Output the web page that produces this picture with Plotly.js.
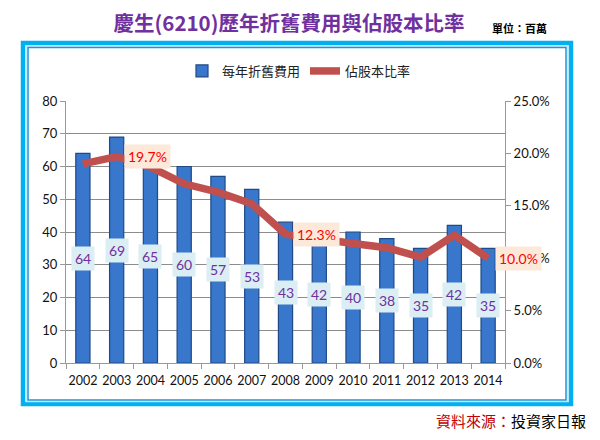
<!DOCTYPE html>
<html>
<head>
<meta charset="utf-8">
<script src="https://cdn.plot.ly/plotly-3.0.1.min.js"></script>
<style>html,body{margin:0;padding:0;background:#fff;}#chart{width:600px;height:440px;}</style>
</head>
<body>
<div id="chart"></div>
<script>
const years = ['2002','2003','2004','2005','2006','2007','2008','2009','2010','2011','2012','2013','2014'];
const depreciation = [64,69,65,60,57,53,43,42,40,38,35,42,35];
const ratioPct = [19.0,19.7,18.7,17.1,16.3,15.2,12.3,11.8,11.4,11.0,10.1,12.2,10.0];
const labeledRatioYears = ['2003','2008','2014'];

const FONT = 'Lato, "Noto Sans CJK TC", sans-serif';
const CJK = '"Noto Sans CJK TC", "Noto Sans", sans-serif';

// plot area pixel geometry (for decoration shapes in paper coords)
const PL = 66, PR = 505, PT = 101, PB = 363;
const px = x => (x - PL) / (PR - PL);
const py = y => (PB - y) / (PB - PT);

const barTrace = {
  type: 'bar', x: years, y: depreciation, name: '每年折舊費用',
  width: 0.42,
  marker: {color: '#3877cc', line: {color: '#1f4a86', width: 1.2}},
  hoverinfo: 'x+y'
};
const lineTrace = {
  type: 'scatter', mode: 'lines', x: years, y: ratioPct, yaxis: 'y2', name: '佔股本比率',
  line: {color: '#c0504d', width: 7.5}
};

const annotations = [];
years.forEach((yr, i) => {
  annotations.push({
    x: i, y: depreciation[i] / 2, xref: 'x', yref: 'y',
    text: String(depreciation[i]), showarrow: false,
    font: {family: FONT, size: 14, color: '#7030a0'},
    bgcolor: '#daeef3', borderpad: 3
  });
  if (labeledRatioYears.includes(yr)) {
    annotations.push({
      x: i, y: ratioPct[i], xref: 'x', yref: 'y2',
      text: ratioPct[i].toFixed(1) + '%', showarrow: false,
      xanchor: 'left', xshift: 7,
      font: {family: FONT, size: 14, color: '#ff0000'},
      bgcolor: '#fde9d9', borderpad: 3
    });
  }
});
annotations.push({
  xref: 'paper', yref: 'paper', x: px(490), y: py(28), xanchor: 'left', yanchor: 'middle',
  text: '<b>單位：百萬</b>', showarrow: false, font: {family: CJK, size: 11, color: '#000'}
});
annotations.push({
  xref: 'paper', yref: 'paper', x: px(588), y: py(420), xanchor: 'right', yanchor: 'middle',
  text: '<span style="color:#c00000">資料來源：</span>投資家日報', showarrow: false,
  font: {family: CJK, size: 15, color: '#000'}
});

const shapes = [
  {type: 'rect', xref: 'paper', yref: 'paper', layer: 'below',
   x0: px(23), x1: px(571), y0: py(43), y1: py(404),
   line: {color: '#00b0f0', width: 4.5}, fillcolor: 'rgba(0,0,0,0)'},
  {type: 'rect', xref: 'paper', yref: 'paper', layer: 'below',
   x0: px(26), x1: px(568), y0: py(46), y1: py(401.5),
   line: {color: '#b8e8fb', width: 1.5}, fillcolor: 'rgba(0,0,0,0)'},
  {type: 'rect', xref: 'paper', yref: 'paper', layer: 'below',
   x0: px(28), x1: px(566), y0: py(47.5), y1: py(400),
   line: {color: '#1e96d8', width: 1.5}, fillcolor: 'rgba(0,0,0,0)'}
];

const layout = {
  width: 600, height: 440,
  margin: {l: PL, r: 600 - PR, t: PT, b: 440 - PB, pad: 0},
  paper_bgcolor: '#ffffff', plot_bgcolor: 'rgba(0,0,0,0)',
  title: {
    text: '慶生(6210)歷年折舊費用與佔股本比率',
    xref: 'container', yref: 'container', x: 289 / 600, y: 1 - 24 / 440,
    xanchor: 'center', yanchor: 'middle',
    font: {family: CJK, size: 20.5, color: '#7030a0', weight: 'bold'}
  },
  showlegend: true,
  legend: {
    orientation: 'h', x: px(299), y: py(71), xanchor: 'center', yanchor: 'middle',
    font: {family: CJK, size: 13, color: '#222'}, bgcolor: 'rgba(0,0,0,0)',
    itemwidth: 30, traceorder: 'normal'
  },
  xaxis: {
    type: 'category', range: [-0.5, years.length - 0.5], autorange: false,
    showgrid: false, showline: true, linecolor: '#999', linewidth: 1,
    ticks: 'outside', tickson: 'boundaries', ticklen: 5, tickcolor: '#999',
    tickangle: 0, ticklabelstandoff: 6,
    tickfont: {family: FONT, size: 12.5, color: '#111'}, fixedrange: true
  },
  yaxis: {
    range: [0, 80], dtick: 10, showgrid: true, gridcolor: '#8c8c8c', gridwidth: 1,
    showline: true, linecolor: '#999', ticks: 'outside', ticklen: 5, tickcolor: '#999',
    tickfont: {family: FONT, size: 13, color: '#111'}, zeroline: false, fixedrange: true
  },
  yaxis2: {
    overlaying: 'y', side: 'right', range: [0, 25], dtick: 5, tickformat: '.1f', ticksuffix: '%',
    showgrid: false, showline: true, linecolor: '#999', ticks: 'outside', ticklen: 5, tickcolor: '#999',
    tickfont: {family: FONT, size: 13, color: '#111'}, zeroline: false, fixedrange: true
  },
  bargap: 0.5,
  annotations: annotations,
  shapes: shapes
};

Plotly.newPlot('chart', [barTrace, lineTrace], layout, {displayModeBar: false, staticPlot: true});
</script>
</body>
</html>
